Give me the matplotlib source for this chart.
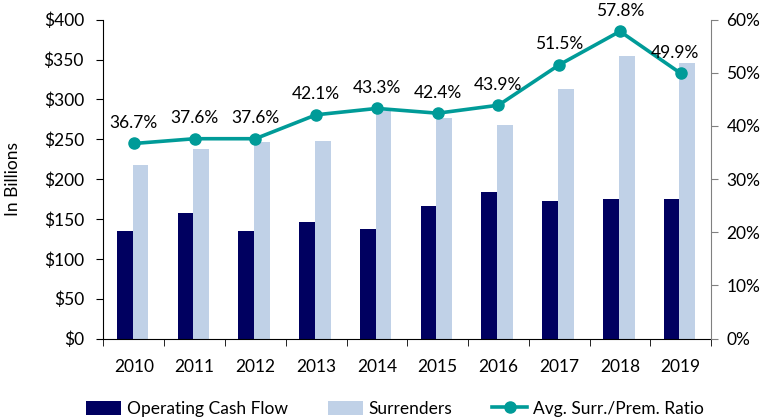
import matplotlib
matplotlib.use("Agg")
import matplotlib.pyplot as plt
import numpy as np
from matplotlib.ticker import FuncFormatter, FixedLocator

plt.rcParams['font.family'] = ['Lato', 'DejaVu Sans']

years = ['2010', '2011', '2012', '2013', '2014', '2015', '2016', '2017', '2018', '2019']
operating_cash_flow = [135, 157, 135, 146, 137, 166, 184, 173, 175, 175]
surrenders = [218, 238, 246, 248, 285, 277, 268, 313, 354, 345]
ratio = [36.7, 37.6, 37.6, 42.1, 43.3, 42.4, 43.9, 51.5, 57.8, 49.9]

navy = '#000060'
light = '#C0D1E7'
teal = '#009B98'
fs = 12.5

fig = plt.figure(figsize=(7.78, 4.18), dpi=100)
ax = fig.add_axes([0.133, 0.19, 0.781, 0.763])
x = np.arange(len(years))
w = 0.26
ax.bar(x - w / 2 - 0.02, operating_cash_flow, w, color=navy, label='Operating Cash Flow', zorder=2)
ax.bar(x + w / 2 - 0.02, surrenders, w, color=light, label='Surrenders', zorder=2)
ax.set_ylim(0, 400)
ax.set_xlim(-0.5, len(years) - 0.5)
ax.yaxis.set_major_locator(FixedLocator(np.arange(0, 401, 50)))
ax.yaxis.set_major_formatter(FuncFormatter(lambda v, p: f'${v:.0f}'))
ax.set_xticks(x)
ax.set_xticklabels(years)
ax.tick_params(axis='x', which='major', length=0, pad=15, labelsize=fs)
ax.set_xticks(np.arange(-0.5, len(years), 1), minor=True)
ax.tick_params(axis='x', which='minor', length=5, direction='out', color='black')
ax.tick_params(axis='y', length=5, direction='out', labelsize=fs, pad=9)
ax.set_ylabel('In Billions', fontsize=fs, labelpad=16)
ax.spines['top'].set_visible(False)
ax.spines['right'].set_visible(False)

ax2 = ax.twinx()
ax2.plot(x, ratio, color=teal, lw=2.6, marker='o', ms=8, label='Avg. Surr./Prem. Ratio', zorder=3)
ax2.set_ylim(0, 60)
ax2.yaxis.set_major_locator(FixedLocator(np.arange(0, 61, 10)))
ax2.yaxis.set_major_formatter(FuncFormatter(lambda v, p: f'{v:.0f}%'))
ax2.tick_params(axis='y', length=5, direction='out', color='#808080', labelsize=fs, pad=6)
ax2.spines['top'].set_visible(False)
ax2.spines['left'].set_visible(False)
ax2.spines['bottom'].set_visible(False)
ax2.spines['right'].set_color('#808080')
for i, r in enumerate(ratio):
    dx = -4 if i == len(ratio) - 1 else 0
    ax2.annotate(f'{r:.1f}%', (x[i], r), xytext=(dx, 9), textcoords='offset points',
                 ha='center', va='bottom', fontsize=fs)

h1, l1 = ax.get_legend_handles_labels()
h2, l2 = ax2.get_legend_handles_labels()
fig.legend(h1 + h2, l1 + l2, loc='lower center', bbox_to_anchor=(0.508, -0.035), ncol=3,
           frameon=False, fontsize=fs, handlelength=2.0, handleheight=0.9,
           columnspacing=2.3, handletextpad=0.35)

fig.savefig('out.png', dpi=100)
